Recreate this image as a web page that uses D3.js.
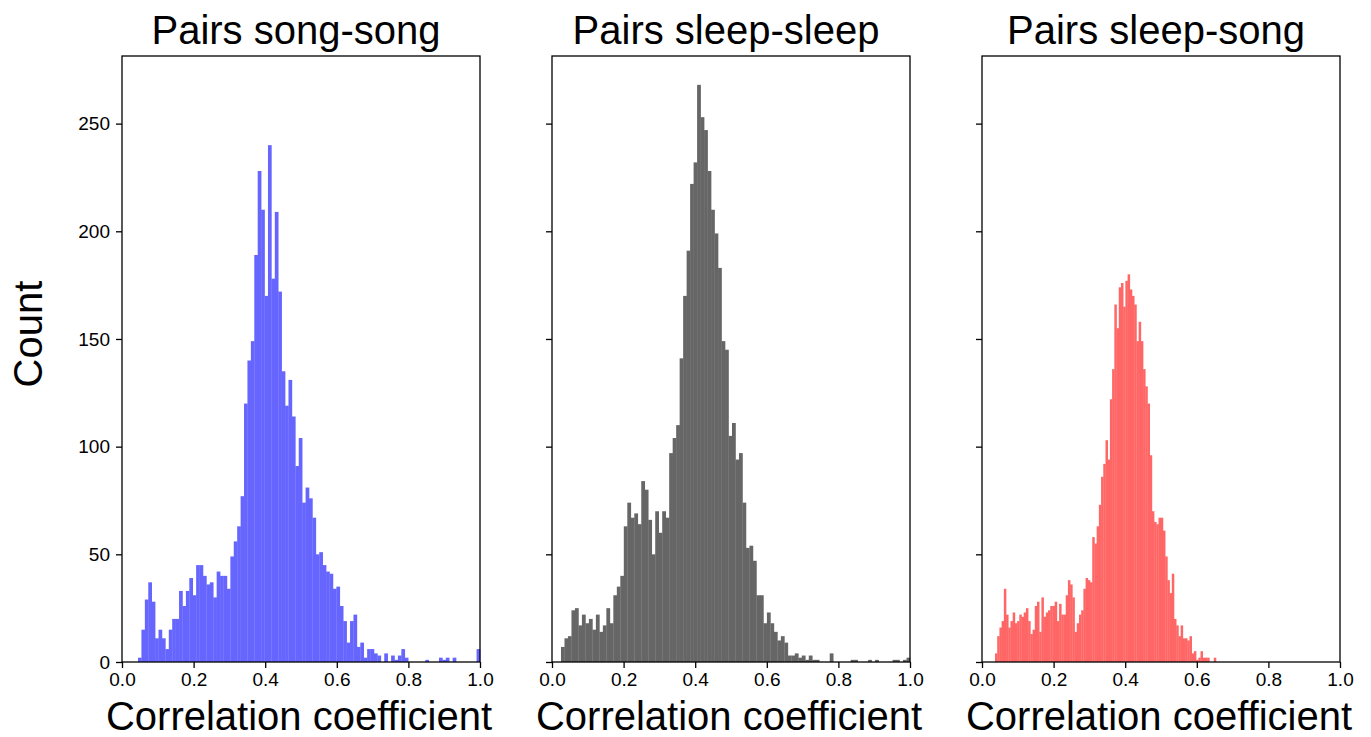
<!DOCTYPE html>
<html>
<head>
<meta charset="utf-8">
<script src="https://cdn.jsdelivr.net/npm/d3@7/dist/d3.min.js"></script>
<style>
  html, body { margin: 0; padding: 0; background: #ffffff; }
  svg { display: block; }
</style>
</head>
<body>
<svg id="chart" width="1371" height="737"></svg>
<script>
// ---------- DATA ----------
const titles = ["Pairs song-song", "Pairs sleep-sleep", "Pairs sleep-song"];
const colors = ["#6666ff", "#666666", "#ff6666"];
const xTicks = [0.0, 0.2, 0.4, 0.6, 0.8, 1.0];
const yTicks = [0, 50, 100, 150, 200, 250];
const xLabel = "Correlation coefficient";
const yLabel = "Count";

// each histogram: 100 equal bins between its own min and max value
const songSongRange = [0.0447, 1.0];
const songSongCounts = [
  2, 15, 29, 37, 28, 11, 15, 11, 6, 15,
  20, 20, 33, 26, 33, 39, 31, 45, 45, 40,
  36, 37, 30, 42, 40, 40, 34, 49, 56, 63,
  77, 120, 140, 149, 189, 228, 210, 170, 240, 178,
  209, 172, 135, 119, 131, 114, 91, 104, 74, 81,
  76, 67, 50, 51, 45, 42, 41, 34, 35, 26,
  19, 9, 19, 22, 7, 9, 2, 6, 6, 4,
  3, 0, 4, 0, 3, 1, 3, 6, 2, 0,
  0, 0, 0, 0, 1, 0, 0, 0, 2, 1,
  2, 0, 2, 0, 0, 0, 0, 0, 0, 6
];

const sleepSleepRange = [0.0251, 1.0];
const sleepSleepCounts = [
  7, 11, 12, 24, 25, 17, 22, 18, 20, 15,
  22, 14, 17, 25, 18, 31, 35, 40, 63, 74,
  67, 69, 64, 84, 80, 66, 50, 70, 60, 70,
  67, 97, 104, 110, 141, 170, 191, 222, 232, 268,
  253, 247, 228, 210, 199, 183, 149, 145, 105, 111,
  94, 97, 74, 53, 54, 47, 31, 31, 18, 23,
  18, 14, 10, 12, 9, 3, 3, 4, 2, 3,
  1, 3, 1, 1, 0, 0, 0, 4, 0, 0,
  0, 0, 0, 1, 1, 0, 0, 0, 1, 0,
  1, 0, 0, 0, 0, 1, 1, 0, 1, 2
];

const sleepSongRange = [0.0363, 0.6536];
const sleepSongCounts = [
  4, 12, 16, 19, 34, 22, 16, 19, 23, 18,
  19, 22, 21, 23, 25, 19, 13, 15, 26, 28,
  14, 30, 21, 23, 24, 26, 26, 28, 19, 27,
  22, 22, 31, 38, 36, 30, 14, 18, 22, 24,
  34, 39, 38, 37, 58, 55, 63, 73, 86, 92,
  103, 94, 122, 136, 166, 155, 174, 176, 165, 177,
  180, 173, 170, 166, 149, 158, 149, 136, 128, 120,
  96, 70, 65, 64, 67, 67, 61, 49, 38, 32,
  41, 20, 17, 12, 17, 11, 11, 10, 12, 4,
  5, 1, 2, 5, 2, 2, 2, 0, 0, 2
];

const panelRanges = [songSongRange, sleepSleepRange, sleepSongRange];
const panelCounts = [songSongCounts, sleepSleepCounts, sleepSongCounts];

// ---------- LAYOUT ----------
const panelLeft = [122, 552, 982];
const panelWidth = 358;
const plotTop = 56, plotBottom = 662;
const yMax = 281.4;

const svg = d3.select("#chart");
const font = "'Liberation Sans', Arial, Helvetica, sans-serif";

const y = d3.scaleLinear().domain([0, yMax]).range([plotBottom, plotTop]);

panelCounts.forEach((counts, p) => {
  const x0 = panelLeft[p];
  const x = d3.scaleLinear().domain([0, 1]).range([x0, x0 + panelWidth]);
  const [lo, hi] = panelRanges[p];
  const w = (hi - lo) / counts.length;
  const bins = counts.map((c, i) => ({ a: lo + i * w, b: lo + (i + 1) * w, c }));

  const g = svg.append("g");

  // bars
  g.selectAll("rect.bar").data(bins).enter().append("rect")
    .attr("class", "bar")
    .attr("x", d => x(d.a))
    .attr("width", d => x(d.b) - x(d.a) + 0.3)
    .attr("y", d => y(d.c))
    .attr("height", d => y(0) - y(d.c))
    .attr("fill", colors[p]);

  // x axis
  const xAxis = d3.axisBottom(x).tickValues(xTicks).tickFormat(d3.format(".1f"))
    .tickSizeInner(6).tickSizeOuter(0).tickPadding(5);
  const gx = g.append("g").attr("transform", `translate(0,${plotBottom})`).call(xAxis);
  gx.select(".domain").remove();
  gx.selectAll("line").attr("stroke", "#000").attr("stroke-width", 1.3);
  gx.selectAll("text").attr("font-family", font).attr("font-size", 19).attr("fill", "#000");

  // y axis
  const yAxis = d3.axisLeft(y).tickValues(yTicks)
    .tickSizeInner(6).tickSizeOuter(0).tickPadding(6)
    .tickFormat(p === 0 ? d3.format("d") : () => "");
  const gy = g.append("g").attr("transform", `translate(${x0},0)`).call(yAxis);
  gy.select(".domain").remove();
  gy.selectAll("line").attr("stroke", "#000").attr("stroke-width", 1.3);
  gy.selectAll("text").attr("font-family", font).attr("font-size", 19).attr("fill", "#000");

  // frame
  g.append("rect")
    .attr("x", x0).attr("y", plotTop)
    .attr("width", panelWidth).attr("height", plotBottom - plotTop)
    .attr("fill", "none").attr("stroke", "#000").attr("stroke-width", 1.3);

  // title
  g.append("text")
    .attr("x", x0 + panelWidth / 2 - 5).attr("y", 44)
    .attr("text-anchor", "middle")
    .attr("font-family", font).attr("font-size", 40)
    .attr("fill", "#000")
    .text(titles[p]);

  // x label
  g.append("text")
    .attr("x", x0 + panelWidth / 2 - 2).attr("y", 730)
    .attr("text-anchor", "middle")
    .attr("font-family", font).attr("font-size", 40)
    .attr("fill", "#000")
    .text(xLabel);
});

// y label
svg.append("text")
  .attr("transform", `translate(42,334) rotate(-90)`)
  .attr("text-anchor", "middle")
  .attr("font-family", font).attr("font-size", 40)
  .attr("fill", "#000")
  .text(yLabel);
</script>
</body>
</html>
